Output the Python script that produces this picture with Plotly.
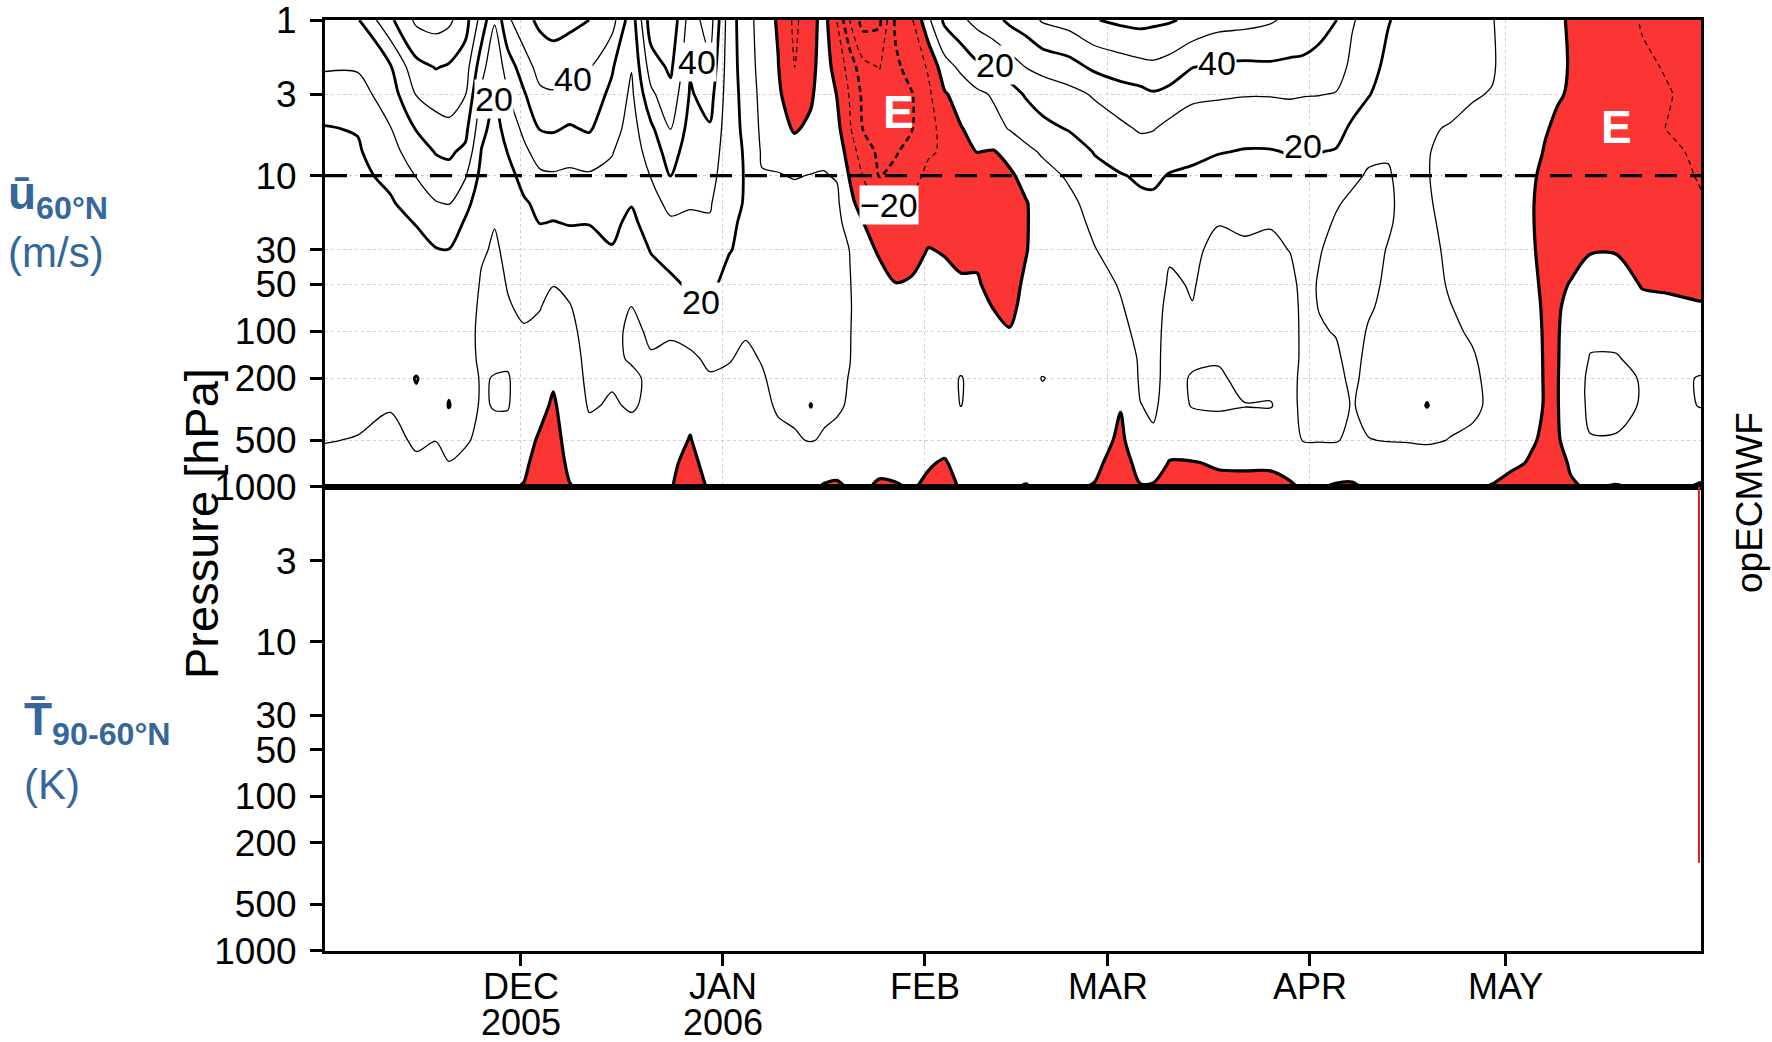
import numpy as np
import pandas as pd
import plotly.graph_objects as go
from plotly.subplots import make_subplots

# ---------------- data ----------------
BASE_DATE = "2005-11-01"
# days after 1 Nov 2005 of each sampled profile
DAYS = [0, 5, 10, 14, 17, 19, 21.5, 24, 26, 28,
        30.5, 33, 35, 37.5, 40.5, 44, 47, 50, 53, 56,
        59, 62, 64.5, 67, 69.5, 72, 74.5, 76.5, 78.5, 80.5,
        82.5, 85, 87.5, 90, 92.5, 95, 97.5, 100, 102.5, 105,
        107.5, 110, 114, 118, 122, 125, 127, 129.5, 133, 137,
        141, 145, 148, 150, 152.5, 155, 157.5, 160, 163, 166,
        169, 172.5, 176, 179, 182, 185, 187, 189, 191, 194,
        198, 202, 206, 211]

PRESSURE_HPA = [1, 2, 3, 5, 7, 10, 15, 20, 30, 50, 70, 100, 150, 200, 300, 500, 700, 1000]

# zonal-mean zonal wind at 60N (m/s), one list per pressure level
U_P1 = [36, 39, 58, 72, 74, 72, 64, 46, 31, 48, 57, 62, 64, 63, 60, 54, 34, 66, 68, 45,
        55, 24, 15, 5, -1, -12, -4, 4, -10.3, -30.5, -44, -42, -18, -11, 8, 22, 28, 33, 37, 42,
        45, 51, 54, 59.5, 62, 63, 62, 61, 58, 54, 53, 51, 48, 46, 43, 40.5, 31, 26, 20.5, 17,
        15, 13, 12.5, 10.2, 8, 5, 3.5, 1.5, -1, -4, -7, -10.5, -11.5, -13]
U_P2 = [31, 31, 39, 57, 60.5, 59, 55, 34, 21.5, 35, 45, 54, 55, 52, 50.5, 41, 30.5, 55, 62, 41,
        48, 24, 16, 6, 0.3, -10.3, -3, 5, -4, -14, -27, -30.5, -22, -16, -9, 6, 12, 18, 20.3, 25,
        30.3, 33, 36, 42, 45, 47, 48, 46, 40.3, 38.5, 38, 38.5, 38, 38, 37, 35, 27.5, 23, 18, 15.5,
        13.5, 12, 11.5, 10.4, 8, 4.5, 2.5, 1, -0.3, -4, -6.5, -9, -10.5, -12.5]
U_P3 = [25, 26, 35, 50.5, 54, 54, 50.5, 28, 19, 29.5, 39, 48, 49, 47, 45, 38, 28, 48, 57, 39,
        44, 24, 17, 7, 1.5, -6, -1.5, 6, -0.3, -11, -22, -26, -25, -20.5, -12, -1, 4, 8, 11, 16,
        21, 24, 27, 31, 35.5, 37, 39, 37, 32, 31, 30.5, 30.5, 31, 30.5, 30.3, 29.5, 24, 20.5, 16, 14,
        12, 11, 10.3, 9.8, 7, 4, 1.5, 0.5, -0.5, -3, -6, -8.5, -9.7, -12]
U_P5 = [19.5, 20.5, 29.5, 40.5, 46, 48, 43, 23, 16, 24, 32, 40.5, 41, 39, 41, 34, 26, 38, 50.5, 36,
        39, 24, 18, 8, 4, -1, 2, 7, 3, -9, -20.3, -24, -24, -20.3, -14, -6, -0.5, 3, 7, 10.5,
        13.5, 17.5, 20.5, 25, 28, 31, 30.5, 27, 25, 25, 23.5, 24, 24, 23.5, 22.5, 23, 18.5, 15, 13, 13,
        10.3, 9.8, 9, 8.5, 6, 3, 0.5, -1, -2.5, -4, -6, -8.5, -10.2, -11.5]
U_P7 = [19, 19, 26, 36, 40.5, 41.5, 38, 19.5, 14, 20.3, 28, 34, 35, 34, 35, 30.5, 25, 34, 45, 34,
        36, 24, 19, 9, 7, 4, 6, 8.5, 6.5, -5, -15, -22, -21, -16, -11, -9, -4, 0.2, -0.5, 3,
        8, 11, 15, 20.5, 24, 26, 25, 23.5, 22, 20.5, 19.5, 19.5, 20.5, 20.5, 20.2, 19.5, 15, 11, 10.5, 12.5,
        10.2, 9, 8.5, 8, 5.5, 2, -0.3, -2.5, -4, -5.5, -7, -8.5, -9, -11]
U_P10 = [18.5, 18, 22, 30.5, 36, 37, 31, 17, 12.5, 17, 23, 28.5, 29, 28, 29, 28, 23, 30.5, 40.5, 32,
         34, 23, 19.5, 10.5, 10.5, 9.5, 10.3, 10.4, 9.5, -1, -10.3, -20.5, -17, -13, -8, -7, -5, -3, -3, -1.5,
         3, 7, 11, 17, 19.5, 21, 21.5, 19.5, 18.5, 16, 16, 16, 17, 17.5, 17, 15, 11, 9.5, 9.5, 12,
         10.2, 8.5, 8, 7.5, 5, 1, -1.5, -3.5, -5, -6.5, -7.5, -8, -8, -10.5]
U_P15 = [18, 17.5, 19, 24, 29.5, 30.5, 23, 14.5, 11, 14.5, 19, 22, 23, 23, 23, 24, 20.5, 26, 33, 30.5,
         31, 22, 19.5, 12, 13, 13, 13, 12.5, 11.5, 3, -5, -13, -13, -9, -5, -5, -4, -4, -3.5, -3,
         -0.5, 4, 8, 13, 17, 18.5, 18.5, 15.5, 15, 12, 12.5, 12.5, 13.5, 15, 13.5, 10.5, 9, 8.5, 9, 12,
         10.5, 8.5, 7.5, 7, 4.5, 0.5, -2, -4, -5.5, -6, -6, -6.5, -6.5, -9.5]
U_P20 = [17.5, 17, 18, 20.3, 25, 26, 19, 13, 10.3, 13, 17, 20.3, 19.7, 20.5, 20.3, 22, 18, 24, 28.5, 29,
         29, 21, 19, 13, 14, 14, 14, 13.5, 12.5, 6, 0.3, -9, -10.3, -7, -3, -3.5, -3, -2.5, -3, -3,
         -0.5, 3, 7, 11.5, 15, 17, 17, 13.5, 13.5, 10.3, 11, 10.5, 12, 14, 11.5, 9.5, 8, 8, 9.3, 12,
         11, 8.5, 7.5, 6.5, 4.5, 0.5, -2, -4, -5, -4, -4, -5, -5, -7]
U_P30 = [17, 16.5, 17, 18, 19.5, 19.8, 17, 11, 9, 11.5, 15, 16, 15, 16, 17, 19.5, 15, 20.5, 24, 25,
         25, 20.4, 18, 14, 15, 15, 15, 14, 13.5, 9.8, 3, -1, -5, -3, 0.3, -0.5, -1, -1, -2, -2.5,
         -0.3, 3, 5, 9.7, 13, 15, 15.5, 11, 11.5, 8, 9, 8.5, 10.2, 13, 10.3, 8.5, 7.5, 8, 10.3, 12,
         11.5, 9, 7.5, 6.5, 4.5, 0.8, -1.8, -3.5, -3.5, -0.5, -0.5, -2.5, -3, -4]
U_P50 = [16, 16, 16, 17, 18, 18, 16, 9, 8, 10.3, 12.5, 12, 10.3, 12, 15, 16, 11.5, 16, 18, 21.5,
         22, 17, 15, 14, 15, 15, 15, 14, 13.5, 10.3, 6, 3, 0.3, 1, 2.5, 2, 0.5, 0.5, -1.5, -2,
         1, 3.5, 4.5, 7.5, 10.5, 13.5, 14, 9, 10.5, 7, 7.5, 7, 8, 12, 9.5, 8, 7, 8.5, 11, 12,
         12, 9.5, 8, 6.5, 5, 1.5, -1.2, -2, 0.5, 3.5, 3.5, -0.5, -1, -1.5]
U_P70 = [15, 15, 15, 16, 17, 17, 15, 8, 7.5, 9.5, 11, 10.3, 7, 9.5, 14, 13.5, 9.8, 13, 14, 18.5,
         19.5, 15, 13, 13, 14, 14, 14, 13, 13, 10.4, 7, 5, 3, 3, 3.5, 3, 2, 2.5, -0.2, -1.5,
         2, 4, 4.5, 6.5, 9.5, 12.5, 13, 8, 9.8, 6.5, 7, 6.5, 7.5, 11.5, 9.8, 8.5, 7, 9.3, 11.5, 12,
         12.5, 10.2, 8.5, 7, 5, 2, -0.8, -0.8, 2, 6, 6, 2, 1.5, 0.5]
U_P100 = [14, 14, 14, 15, 16, 16, 14, 7.5, 7, 8.5, 9.5, 8, 5, 8, 13, 12, 8.5, 11, 10.5, 12,
          15, 12.5, 10.5, 11, 13, 13, 13.5, 12.5, 12, 10.2, 7.5, 6, 5, 4, 4, 3.5, 3.5, 3, 2, 0.3,
          3, 4.5, 5, 6, 8, 12, 12.5, 7.5, 8.5, 6.5, 7, 6.5, 7, 11.5, 10.5, 9.7, 7.5, 10.5, 12, 12.5,
          13, 11, 9.3, 7.5, 5.5, 2.5, -0.6, -0.5, 3, 8, 8, 5, 4, 3]
U_P150 = [14, 14, 14, 16, 15, 16, 14, 8, 8, 9, 8, 6, 3, 7, 12, 11, 9.5, 9.5, 9, 9,
          11, 10.3, 9, 10.3, 12, 12.5, 13, 12, 11.5, 10.1, 7.5, 6.5, 6, 5, 4.5, 4, 5, 4, 4, 3,
          4, 5, 5, 6, 5, 11, 12, 7.5, 9, 9.5, 7.5, 7.5, 7, 11.5, 11, 11, 8, 11.5, 12.5, 13,
          14, 11.5, 10.5, 8, 6, 3, -0.5, -0.4, 3.5, 10.5, 10.5, 8, 7, 7]
U_P200 = [14, 14, 14, 20.5, 15, 18, 15, 9, 10.5, 10.5, 7, 5, 1.5, 6.5, 11.5, 10.5, 11, 9, 8, 7,
          9.5, 9, 8.5, 9.5, 11.5, 12, 14, 11.5, 11, 9.8, 8, 7, 6.5, 5.5, 5, 4.5, 10.8, 5, 5, 5,
          5, 10.5, 6, 6.5, 2, 11, 11.5, 8, 10.5, 10.8, 8.5, 8.5, 7.5, 12, 12, 12, 8.5, 12, 13, 13.5,
          16, 12, 11, 8.5, 6.5, 3.5, -0.5, -0.3, 4, 12, 12, 9.5, 8, 10.5]
U_P300 = [13, 13, 10.5, 18, 14, 20.5, 14, 9, 10.5, 10.5, 6, 3, -1.5, 6, 10.5, 9.5, 10.5, 9, 7, 3,
          8, 7, 8, 9, 10.5, 11, 20.5, 11, 10.5, 9.6, 8, 7, 6.5, 5.5, 5, 4, 10.3, 5, 5, 5,
          5, 6, 6, 7, 0.5, 9.8, 11, 7.5, 10.3, 10.6, 10.2, 10.3, 7.5, 12, 12.5, 13, 9.5, 12, 13, 14,
          20.5, 12, 11, 9, 7, 3.5, -0.5, -0.3, 4, 12, 12, 9.5, 8, 10.3]
U_P500 = [10.5, 9.5, 8, 11, 10.2, 13, 11, 8, 7, 7, 4, -1.5, -4, 4, 8, 7.5, 8, 7, 4, -0.5,
          6, 5, 6, 7, 9, 9.5, 10.3, 9.5, 9, 8, 6.5, 5, 5, 4, 3, 2, 4, 3, 3, 3,
          3, 4, 4, 5, -2, 7, 9, 4, 6, 7, 5.5, 6, 5, 10.5, 10.5, 10.5, 8.5, 9.8, 10.3, 10.5,
          11, 9.8, 9, 7, 5, 0.5, -0.7, -0.5, 2, 9.5, 9.5, 7, 6, 6]
U_P700 = [7, 7, 6, 9, 7, 9.8, 8, 6, 5, 4, 2, -4, -5, 2, 5, 5, 5, 5, 2, -3,
          4, 3, 4, 5, 6, 6, 6, 6, 4, 4, 4, 2, 2, 2, 0.5, -0.5, 2, 1.5, 1.5, 2,
          2, 2, 2, 2, -4, 3, 5, -0.5, -0.5, 1, 1, 1, 1.5, 5, 5, 5.5, 4, 5, 6, 6,
          6, 5, 5, 3.5, 1, -0.5, -1, -1.5, 0.5, 4, 4, 3, 3, 2]
U_P1000 = [3, 3, 3, 4, 3, 4, 3, 3, 2, 1, -0.5, -5, -5, -0.5, 2, 2, 2, 2, 0.5, -4,
           1, 1, 1, 2, 2, 2, 2, -1, -1.5, 1, 1, -1, -0.5, 0.5, -1, -2, 0.5, 0.5, 0.5, 0.5,
           -0.3, 1, 1, -0.5, -4, -0.5, -1, -3, -3, -2.5, -2, -2, -0.5, 0.5, 0.5, -1, -1, 1, 2, 2,
           2, 1, 1, -0.5, -2, -2, -2, -3, -0.5, 0.5, -0.5, 1, 1, -0.5]

MONTH_TICKS = ["2005-12-01", "2006-01-01", "2006-02-01", "2006-03-01", "2006-04-01", "2006-05-01"]
MONTH_NAMES = ["DEC", "JAN", "FEB", "MAR", "APR", "MAY"]
MONTH_YEARS = ["2005", "2006", "", "", "", ""]
P_TICKS_TOP = [1, 3, 10, 30, 50, 100, 200, 500, 1000]
P_TICKS_BOTTOM = [3, 10, 30, 50, 100, 200, 500, 1000]

# contour labels written on the chart (text, day after 1 Nov, pressure hPa)
LABEL_TEXT = ["20", "40", "40", "20", "\u221220", "20", "40", "20"]
LABEL_DAY = [25.9, 38, 57, 57.6, 86.5, 102.7, 136.8, 150]
LABEL_P = [3.2, 2.4, 1.85, 65, 15.4, 1.94, 1.9, 6.4]
E_DAY = [87.9, 198]
E_P = [3.9, 4.9]

# ---------------- build figure ----------------
rows = [U_P1, U_P2, U_P3, U_P5, U_P7, U_P10, U_P15, U_P20, U_P30, U_P50, U_P70,
        U_P100, U_P150, U_P200, U_P300, U_P500, U_P700, U_P1000]
for r in rows:
    assert len(r) == len(DAYS), len(r)
z = np.array(rows, dtype=float)
base = pd.Timestamp(BASE_DATE)
x = base + pd.to_timedelta(DAYS, unit="D")
y = np.log10(PRESSURE_HPA)

def day2date(d):
    return base + pd.to_timedelta(d, unit="D")

FONT = "Liberation Sans, Arial, Helvetica, sans-serif"
BLUE = "#36679b"
RED = "#fb3434"
SMOOTH = 0.85

fig = make_subplots(rows=2, cols=1, shared_xaxes=True, vertical_spacing=0,
                    row_heights=[467, 464])

# easterlies (u < 0) shaded red, bounded by the thick zero line
fig.add_trace(go.Contour(x=x, y=y, z=z, showscale=False, hoverinfo="skip",
                         contours=dict(type="constraint", operation=">", value=0),
                         fillcolor=RED, line=dict(color="black", width=3.2, smoothing=SMOOTH)),
              row=1, col=1)
fig.add_trace(go.Contour(x=x, y=y, z=z, showscale=False, hoverinfo="skip", autocontour=False,
                         contours=dict(coloring="none", start=10, end=70, size=20),
                         line=dict(color="black", width=1.3, smoothing=SMOOTH)),
              row=1, col=1)
fig.add_trace(go.Contour(x=x, y=y, z=z, showscale=False, hoverinfo="skip", autocontour=False,
                         contours=dict(coloring="none", start=20, end=60, size=20),
                         line=dict(color="black", width=2.8, smoothing=SMOOTH)),
              row=1, col=1)
fig.add_trace(go.Contour(x=x, y=y, z=z, showscale=False, hoverinfo="skip", autocontour=False,
                         contours=dict(coloring="none", start=-50, end=-10, size=20),
                         line=dict(color="black", width=1.2, dash="5px,4px", smoothing=SMOOTH)),
              row=1, col=1)
fig.add_trace(go.Contour(x=x, y=y, z=z, showscale=False, hoverinfo="skip", autocontour=False,
                         contours=dict(coloring="none", start=-40, end=-20, size=20),
                         line=dict(color="black", width=2.6, dash="6px,4px", smoothing=SMOOTH)),
              row=1, col=1)
# the temperature panel of the reference is blank: an empty trace keeps its axes drawn
fig.add_trace(go.Scatter(x=[], y=[], mode="lines", hoverinfo="skip", showlegend=False),
              row=2, col=1)

xr = [base, day2date(DAYS[-1])]
yr = [3.0004, -0.0004]
common_axis = dict(showline=True, linecolor="black", linewidth=3, mirror=True,
                   zeroline=False, automargin=False)

fig.update_xaxes(type="date", range=xr, tickvals=MONTH_TICKS, showticklabels=False, ticks="",
                 showgrid=True, gridcolor="#cfcfcf", griddash="dot", gridwidth=1,
                 row=1, col=1, **common_axis)
fig.update_xaxes(type="date", range=xr, tickvals=MONTH_TICKS, showticklabels=False,
                 ticks="outside", ticklen=12, tickwidth=2.5, tickcolor="black",
                 showgrid=False, row=2, col=1, **common_axis)
fig.update_yaxes(range=yr, tickvals=np.log10(P_TICKS_TOP), ticktext=[str(v) for v in P_TICKS_TOP],
                 ticks="outside", ticklen=12, tickwidth=2.5, tickcolor="black",
                 tickfont=dict(family=FONT, size=37, color="black"), ticklabelstandoff=6,
                 showgrid=True, gridcolor="#cfcfcf", griddash="dot", gridwidth=1,
                 row=1, col=1, **common_axis)
fig.update_yaxes(range=yr, tickvals=np.log10(P_TICKS_BOTTOM), ticktext=[str(v) for v in P_TICKS_BOTTOM],
                 ticks="outside", ticklen=12, tickwidth=2.5, tickcolor="black",
                 tickfont=dict(family=FONT, size=37, color="black"), ticklabelstandoff=6,
                 showgrid=False, row=2, col=1, **common_axis)

L, R, T, B = 325, 71, 20, 91
W, H = 1772, 1042
PW, PH = W - L - R, H - T - B

def px(X):
    return (X - L) / PW

def py(Y):
    return (H - B - Y) / PH

shapes = [
    dict(type="line", xref="x domain", x0=0, x1=1, yref="y", y0=1, y1=1,
         line=dict(color="black", width=3.2, dash="22px,13px"), layer="above"),
    dict(type="line", xref="x2 domain", x0=0.9985, x1=0.9985, yref="y2 domain", y0=1, y1=0.19,
         line=dict(color="#e02020", width=2), layer="above"),
]

ann = []
for t, d, p in zip(LABEL_TEXT, LABEL_DAY, LABEL_P):
    ann.append(dict(x=day2date(d), y=np.log10(p), xref="x", yref="y", text=t, showarrow=False,
                    font=dict(family=FONT, size=34, color="black"), bgcolor="white", borderpad=0))
for d, p in zip(E_DAY, E_P):
    ann.append(dict(x=day2date(d), y=np.log10(p), xref="x", yref="y", text="<b>E</b>",
                    showarrow=False, font=dict(family=FONT, size=46, color="white")))
# month / year labels under the time axis
for tv, mname, yname in zip(MONTH_TICKS, MONTH_NAMES, MONTH_YEARS):
    ann.append(dict(x=tv, y=py(986), xref="x2", yref="paper", xanchor="center", yanchor="middle",
                    text=mname, showarrow=False, font=dict(family=FONT, size=36, color="black")))
    if yname:
        ann.append(dict(x=tv, y=py(1022), xref="x2", yref="paper", xanchor="center",
                        yanchor="middle", text=yname, showarrow=False,
                        font=dict(family=FONT, size=36, color="black")))

ann += [
    dict(x=px(6), y=py(196), xref="paper", yref="paper", xanchor="left", yanchor="middle",
         text="<b>\u016b<sub>60\u00b0N</sub></b>", showarrow=False,
         font=dict(family=FONT, size=46, color=BLUE)),
    dict(x=px(6), y=py(252), xref="paper", yref="paper", xanchor="left", yanchor="middle",
         text="(m/s)", showarrow=False, font=dict(family=FONT, size=42, color=BLUE)),
    dict(x=px(22), y=py(722), xref="paper", yref="paper", xanchor="left", yanchor="middle",
         text="<b>T\u0304<sub>90-60\u00b0N</sub></b>", showarrow=False,
         font=dict(family=FONT, size=46, color=BLUE)),
    dict(x=px(22), y=py(784), xref="paper", yref="paper", xanchor="left", yanchor="middle",
         text="(K)", showarrow=False, font=dict(family=FONT, size=42, color=BLUE)),
    dict(x=px(201), y=py(524), xref="paper", yref="paper", xanchor="center", yanchor="middle",
         text="Pressure [hPa]", textangle=-90, showarrow=False,
         font=dict(family=FONT, size=47, color="black")),
    dict(x=px(1749), y=py(503), xref="paper", yref="paper", xanchor="center", yanchor="middle",
         text="opECMWF", textangle=-90, showarrow=False,
         font=dict(family=FONT, size=37, color="black")),
]

fig.update_layout(width=W, height=H, margin=dict(l=L, r=R, t=T, b=B, pad=0, autoexpand=False),
                  plot_bgcolor="white", paper_bgcolor="white", showlegend=False,
                  font=dict(family=FONT, color="black"), shapes=shapes, annotations=ann)

fig.write_html("out.html")
